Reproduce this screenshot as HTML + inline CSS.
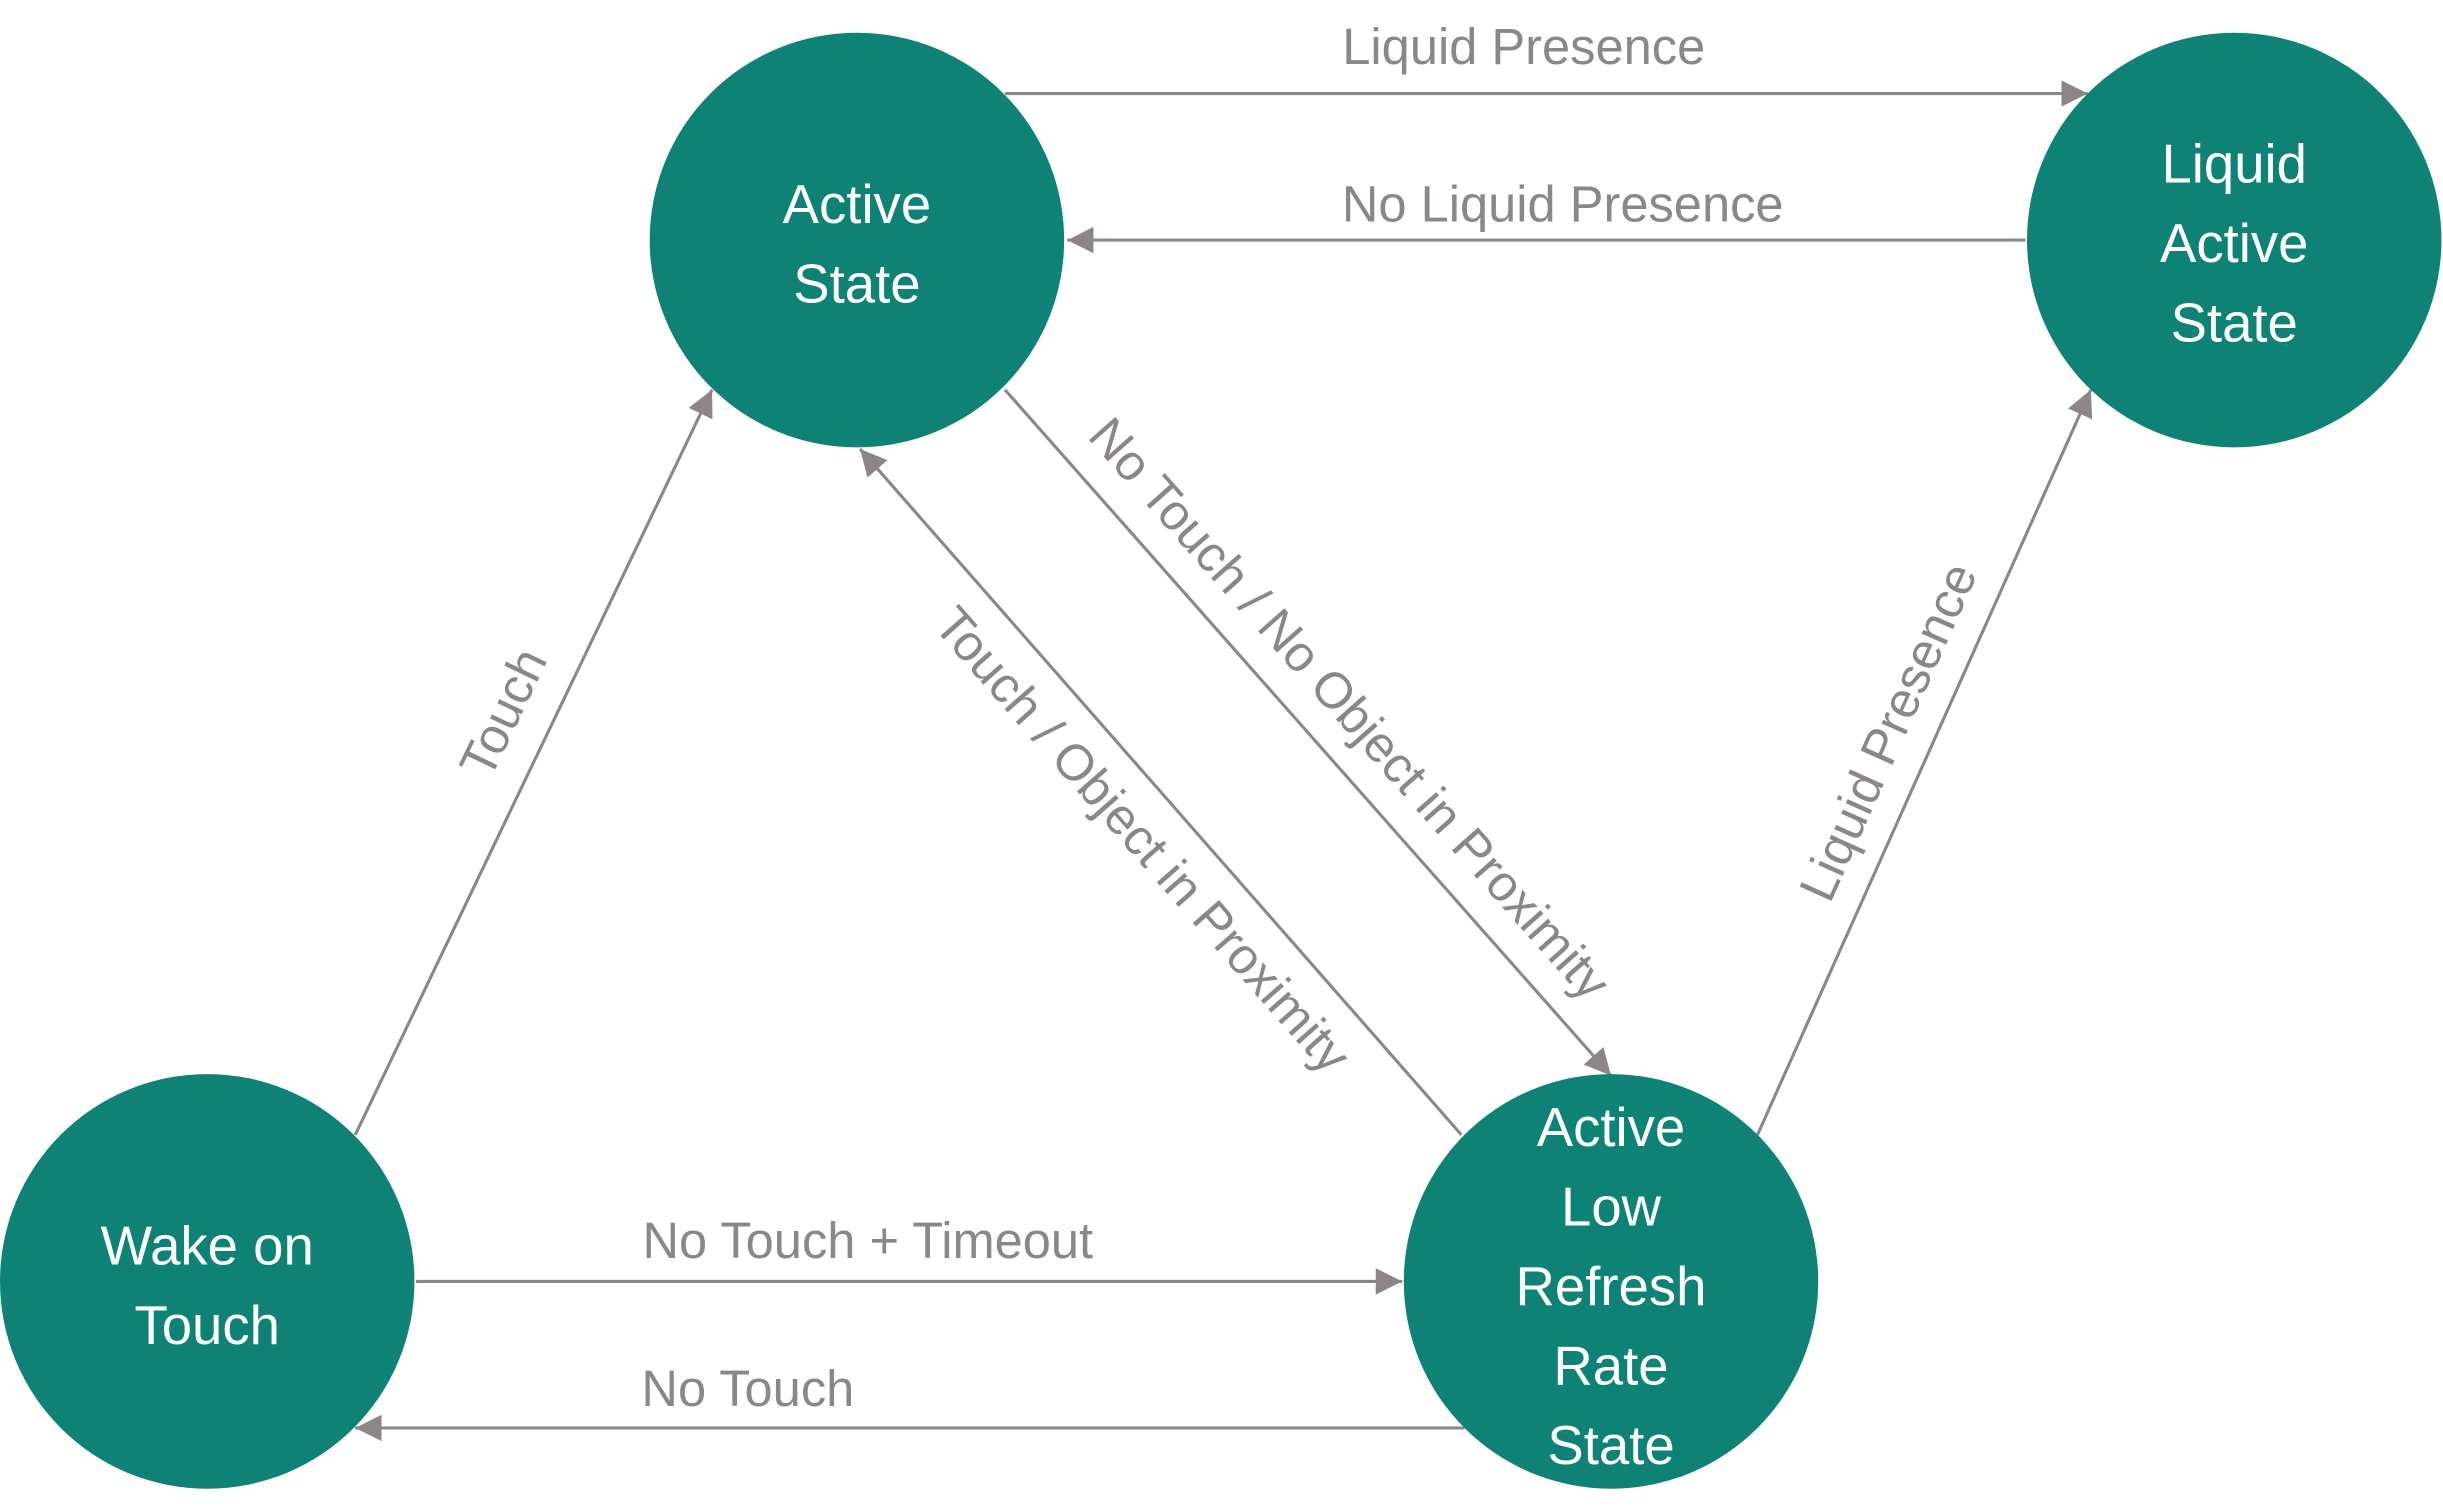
<!DOCTYPE html>
<html><head><meta charset="utf-8"><style>
html,body{margin:0;padding:0;background:#fff;}
svg{display:block;}
.n{fill:#0e8375;}
.t{fill:#fff;font-family:"Liberation Sans",sans-serif;font-size:35px;text-anchor:middle;}
.l{fill:#8c8786;font-family:"Liberation Sans",sans-serif;font-size:32.5px;text-anchor:middle;}
.e{stroke:#8c8786;stroke-width:2;fill:none;marker-end:url(#b);}
</style></head><body>
<svg width="2443" height="1509" viewBox="0 0 1568 968" preserveAspectRatio="none" xmlns="http://www.w3.org/2000/svg">
<defs><marker id="b" viewBox="0 0 10 10" refX="10" refY="5" markerWidth="17" markerHeight="17" orient="auto" markerUnits="userSpaceOnUse"><path d="M0,0 L10,5 L0,10 z" fill="#8c8786"/></marker></defs>

<line class="e" x1="645" y1="60" x2="1340" y2="60"/>
<line class="e" x1="1300" y1="154" x2="685" y2="154"/>
<line class="e" x1="228" y1="728" x2="457" y2="250"/>
<line class="e" x1="938" y1="728" x2="552" y2="288"/>
<line class="e" x1="645" y1="250" x2="1034" y2="690"/>
<line class="e" x1="1128" y1="728" x2="1342" y2="250"/>
<line class="e" x1="267" y1="822" x2="900" y2="822"/>
<line class="e" x1="940" y1="916" x2="228" y2="916"/>

<circle class="n" cx="550" cy="154" r="133"/>
<circle class="n" cx="1434" cy="154" r="133"/>
<circle class="n" cx="133" cy="822" r="133"/>
<circle class="n" cx="1034" cy="822" r="133"/>

<text class="t" x="550" y="143">Active</text>
<text class="t" x="550" y="194">State</text>
<text class="t" x="1434" y="117">Liquid</text>
<text class="t" x="1434" y="168">Active</text>
<text class="t" x="1434" y="219">State</text>
<text class="t" x="133" y="811">Wake on</text>
<text class="t" x="133" y="862">Touch</text>
<text class="t" x="1034" y="735">Active</text>
<text class="t" x="1034" y="786">Low</text>
<text class="t" x="1034" y="837">Refresh</text>
<text class="t" x="1034" y="888">Rate</text>
<text class="t" x="1034" y="939">State</text>

<text class="l" x="978" y="41">Liquid Presence</text>
<text class="l" x="1003" y="142">No Liquid Presence</text>
<text class="l" x="557" y="807">No Touch + Timeout</text>
<text class="l" x="480" y="902">No Touch</text>
<text class="l" transform="translate(333,462) rotate(-64.4)">Touch</text>
<text class="l" transform="translate(725,546) rotate(48.7)">Touch / Object in Proximity</text>
<text class="l" transform="translate(858,462) rotate(48.5)">No Touch / No Object in Proximity</text>
<text class="l" transform="translate(1222,474) rotate(-65.9)">Liquid Presence</text>
</svg>
</body></html>
